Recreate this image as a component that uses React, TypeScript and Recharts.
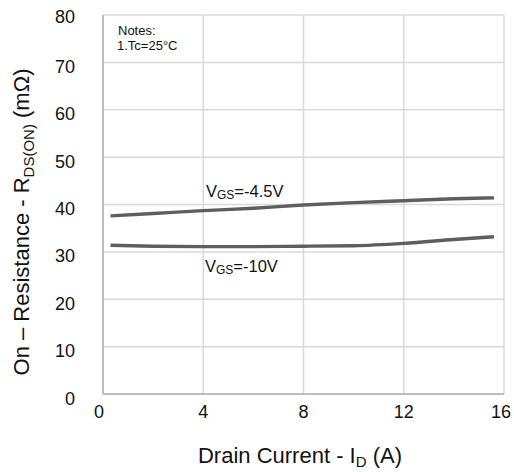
import React from 'react';
import {
  LineChart, Line, XAxis, YAxis, CartesianGrid, Label
} from 'recharts';

const currents = [0.3, 2, 4, 6, 8, 10, 12, 14, 15.6];
const vgs45 = [37.6, 38.1, 38.7, 39.2, 39.9, 40.4, 40.8, 41.2, 41.4];
const vgs10 = [31.4, 31.2, 31.1, 31.1, 31.2, 31.3, 31.8, 32.6, 33.2];
const xTicks = [0, 4, 8, 12, 16];
const yTicks = [0, 10, 20, 30, 40, 50, 60, 70, 80];

const data = currents.map((id, i) => ({ id, v45: vgs45[i], v10: vgs10[i] }));

const FONT = '"Liberation Sans", Arial, sans-serif';
const BORDER = '#bdbdbd';

const YTick = ({ x, y, payload }: any) => (
  <text x={x - 20} y={y + (payload.value === 80 ? 7.5 : 10.5)} textAnchor="end"
    fontSize={18} fill="#111" fontFamily={FONT}>
    {payload.value}
  </text>
);

const XTick = ({ x, y, payload }: any) => {
  const shift = payload.value === 0 ? -4 : payload.value === 16 ? -3 : 0;
  return (
    <text x={x + shift} y={y + 16} textAnchor="middle" fontSize={18} fill="#111" fontFamily={FONT}>
      {payload.value}
    </text>
  );
};

const YTitle = () => (
  <text
    transform="translate(29,222) rotate(-90)"
    textAnchor="middle" fontSize={22} fill="#111" fontFamily={FONT}
  >
    On – Resistance - R<tspan fontSize={15} dy={5}>DS(ON)</tspan>
    <tspan dy={-5}> (mΩ)</tspan>
  </text>
);

const XTitle = () => (
  <text x={300} y={463} textAnchor="middle" fontSize={22} fill="#111" fontFamily={FONT}>
    Drain Current - I<tspan fontSize={15} dy={4}>D</tspan>
    <tspan dy={-4}> (A)</tspan>
  </text>
);

export default function App() {
  return (
    <div style={{ position: 'absolute', left: 0, top: 0, background: '#fff' }}>
      <LineChart width={514} height={472} data={data}
        margin={{ top: 15, right: 10, left: 0, bottom: 0 }}>
        <CartesianGrid stroke="#d9d9d9" strokeWidth={1.5} />
        <XAxis
          type="number" dataKey="id" domain={[0, 16]} ticks={xTicks}
          axisLine={{ stroke: BORDER, strokeWidth: 2 }} tickLine={false}
          tick={<XTick />} height={78} interval={0}
        >
          <Label content={<XTitle />} />
        </XAxis>
        <XAxis xAxisId="top" orientation="top" type="number" domain={[0, 16]}
          axisLine={{ stroke: BORDER, strokeWidth: 2 }} tick={false} tickLine={false} height={0} />
        <YAxis
          type="number" domain={[0, 80]} ticks={yTicks}
          axisLine={{ stroke: BORDER, strokeWidth: 2 }} tickLine={false}
          tick={<YTick />} width={103} interval={0}
        >
          <Label content={<YTitle />} />
        </YAxis>
        <YAxis yAxisId="right" orientation="right" type="number" domain={[0, 80]}
          axisLine={{ stroke: BORDER, strokeWidth: 2 }} tick={false} tickLine={false} width={0} />
        <Line type="monotone" dataKey="v45" stroke="#5e5e5e" strokeWidth={3.4}
          dot={false} activeDot={false} isAnimationActive={false} />
        <Line type="monotone" dataKey="v10" stroke="#5e5e5e" strokeWidth={3.4}
          dot={false} activeDot={false} isAnimationActive={false} />
        <text x={118} y={35} fontSize={13} fill="#111" fontFamily={FONT}>Notes:</text>
        <text x={117} y={50} fontSize={13} fill="#111" fontFamily={FONT}>1.Tc=25°C</text>
        <text x={206} y={197} fontSize={16.5} fill="#111" fontFamily={FONT}>
          V<tspan fontSize={12} dy={2}>GS</tspan><tspan dy={-2}>=-4.5V</tspan>
        </text>
        <text x={205} y={272} fontSize={16.5} fill="#111" fontFamily={FONT}>
          V<tspan fontSize={12} dy={2}>GS</tspan><tspan dy={-2}>=-10V</tspan>
        </text>
      </LineChart>
    </div>
  );
}
